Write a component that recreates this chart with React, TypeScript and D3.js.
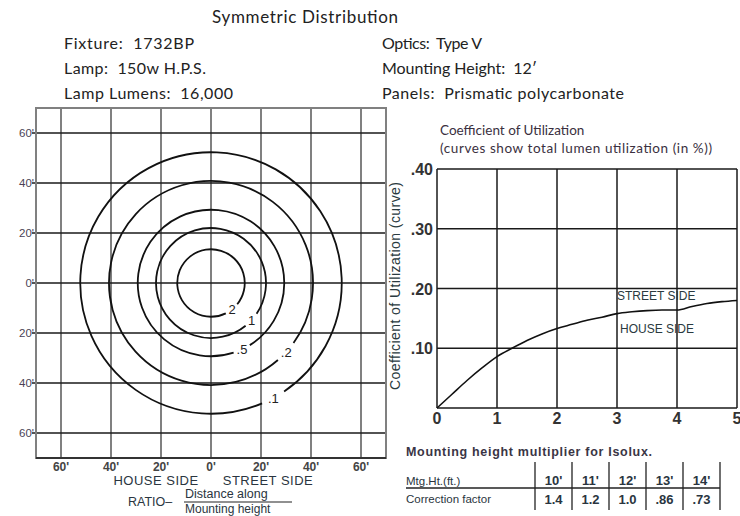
import React from 'react';
import * as d3 from 'd3';

// header info
const title = 'Symmetric Distribution';
const infoLeft = ['Fixture:\u00a0 1732BP', 'Lamp:\u00a0 150w H.P.S.', 'Lamp Lumens:\u00a0 16,000'];
const infoRight = ['Optics:\u00a0 Type V', 'Mounting Height:\u00a0 12\u2032', 'Panels:\u00a0 Prismatic polycarbonate'];
const infoLeftWidth = [130, 142, 169];
const infoRightWidth = [100, 155, 242];

// isolux plot (feet)
const gridFeet = [-60, -40, -20, 0, 20, 40, 60];
const isoValues = ['2', '1', '.5', '.2', '.1'];
const isoRadius = [13.5, 22, 29.3, 40.8, 52.3];
const isoGapStart = [39, 34, 58, 36, 56]; // degrees, clockwise from +x
const isoGapEnd = [64, 51, 72, 49, 67];

// coefficient of utilization
const couX = [0, 0.25, 0.5, 0.75, 1, 1.25, 1.5, 1.75, 2, 2.25, 2.5, 2.75, 3, 3.25, 3.5, 3.75, 4, 4.25, 4.5, 4.75, 5];
const couY = [0, 0.023, 0.046, 0.067, 0.086, 0.1, 0.113, 0.124, 0.133, 0.14, 0.147, 0.152, 0.158, 0.161, 0.163, 0.164, 0.164, 0.17, 0.175, 0.178, 0.18];
const couXTicks = [0, 1, 2, 3, 4, 5];
const couYTicks = [0.1, 0.2, 0.3, 0.4];

// correction table
const mtgHeights = ["10'", "11'", "12'", "13'", "14'"];
const correction = ['1.4', '1.2', '1.0', '.86', '.73'];

const sans = '"Liberation Sans", Arial, sans-serif';
const humanist = 'Lato, "Open Sans", sans-serif';

export default function App() {
  const xL = d3.scaleLinear().domain([-70, 70]).range([36, 386]);
  const yL = d3.scaleLinear().domain([70, -70]).range([108, 458]);
  const xR = d3.scaleLinear().domain([0, 5]).range([437, 737]);
  const yR = d3.scaleLinear().domain([0, 0.4]).range([408, 169]);
  const band = d3.scaleBand<string>().domain(mtgHeights).range([535, 720]);

  const cx = xL(0);
  const cy = yL(0);
  const rad = (d: number) => (d * Math.PI) / 180;

  const arcs = isoValues.map((v, i) => {
    const r = xL(isoRadius[i]) - xL(0);
    const p = d3.path();
    const a0 = rad(isoGapEnd[i]);
    const a1 = rad(isoGapStart[i] + 360);
    p.moveTo(cx + r * Math.cos(a0), cy + r * Math.sin(a0));
    p.arc(cx, cy, r, a0, a1);
    const la = rad((isoGapStart[i] + isoGapEnd[i]) / 2);
    return { v, d: p.toString(), lx: cx + r * Math.cos(la), ly: cy + r * Math.sin(la) };
  });

  const line = d3
    .line<number>()
    .x((_, i) => xR(couX[i]))
    .y((d) => yR(d))
    .curve(d3.curveMonotoneX);

  const dark = '#1a1a1a';
  const gray = '#808080';

  return (
    <svg width={740} height={516} style={{ position: 'absolute', left: 0, top: 0, background: '#fff' }}>
      {/* header */}
      <text x={212} y={23} textLength={186} lengthAdjust="spacing" fontFamily={humanist} fontSize={17} fill="#222">{title}</text>
      {infoLeft.map((t, i) => (
        <text key={t} x={64} y={49 + i * 25} textLength={infoLeftWidth[i]} lengthAdjust="spacing" fontFamily={humanist} fontSize={16} fill="#222">{t}</text>
      ))}
      {infoRight.map((t, i) => (
        <text key={t} x={382} y={49 + i * 25} textLength={infoRightWidth[i]} lengthAdjust="spacing" fontFamily={humanist} fontSize={16} fill="#222">{t}</text>
      ))}

      {/* isolux grid */}
      {gridFeet.map((f) => (
        <line key={'v' + f} x1={xL(f)} x2={xL(f)} y1={yL(70)} y2={yL(-70)} stroke={gray} strokeWidth={2} />
      ))}
      {gridFeet.map((f) => (
        <line key={'h' + f} x1={xL(-70) - 4} x2={xL(70)} y1={yL(f)} y2={yL(f)} stroke={dark} strokeWidth={1.5} />
      ))}
      <rect x={xL(-70)} y={yL(70)} width={xL(70) - xL(-70)} height={yL(-70) - yL(70)} fill="none" stroke={gray} strokeWidth={2} />
      <line x1={xL(-70)} x2={xL(70)} y1={yL(-70)} y2={yL(-70)} stroke={dark} strokeWidth={1.5} />
      {gridFeet.map((f) => (
        <text key={'yt' + f} x={34} y={yL(f) + 4} textAnchor="end" fontFamily={sans} fontSize={11.5} fill="#4a3f55">
          {Math.abs(f) + "'"}
        </text>
      ))}
      {gridFeet.map((f) => (
        <text key={'xt' + f} x={xL(f)} y={yL(-70) + 13} textAnchor="middle" fontFamily={sans} fontSize={12} fontWeight="bold" fill="#444">
          {Math.abs(f) + "'"}
        </text>
      ))}
      {arcs.map((a) => (
        <g key={a.v}>
          <path d={a.d} fill="none" stroke="#111" strokeWidth={1.8} />
          <text x={a.lx} y={a.ly + 5} textAnchor="middle" fontFamily={sans} fontSize={13} fill="#222">{a.v}</text>
        </g>
      ))}
      <text x={156} y={485} textAnchor="middle" fontFamily={sans} fontSize={13} letterSpacing={0.5} fill="#2a3540">HOUSE SIDE</text>
      <text x={268} y={485} textAnchor="middle" fontFamily={sans} fontSize={13} letterSpacing={0.5} fill="#2a3540">STREET SIDE</text>
      <text x={128} y={506} fontFamily={sans} fontSize={12.5} fill="#2a3540">RATIO–</text>
      <text x={185} y={498} fontFamily={sans} fontSize={12.5} fill="#2a3540">Distance along</text>
      <line x1={184} x2={292} y1={502} y2={502} stroke="#222" strokeWidth={1.2} />
      <text x={185} y={513} fontFamily={sans} fontSize={12} fill="#2a3540">Mounting height</text>

      {/* coefficient of utilization */}
      <text x={440} y={135} fontFamily={humanist} fontSize={13.5} fill="#3a3040">Coefficient of Utilization</text>
      <text x={440} y={153} textLength={272} lengthAdjust="spacing" fontFamily={humanist} fontSize={13.5} fill="#3a3040">(curves show total lumen utilization (in %))</text>
      {couXTicks.map((t) => (
        <line key={'rv' + t} x1={xR(t)} x2={xR(t)} y1={yR(0.4)} y2={yR(0)} stroke={dark} strokeWidth={1.5} />
      ))}
      {[0, ...couYTicks].map((t) => (
        <line key={'rh' + t} x1={xR(0)} x2={xR(5)} y1={yR(t)} y2={yR(t)} stroke={dark} strokeWidth={1.5} />
      ))}
      {couYTicks.map((t) => (
        <text key={'ryt' + t} x={433} y={yR(t) + 6} textAnchor="end" fontFamily={sans} fontSize={16} fontWeight="bold" fill="#333">
          {d3.format('.2f')(t).replace(/^0/, '')}
        </text>
      ))}
      {couXTicks.map((t) => (
        <text key={'rxt' + t} x={xR(t)} y={424} textAnchor="middle" fontFamily={sans} fontSize={16} fontWeight="bold" fill="#333">{t}</text>
      ))}
      <text transform={`translate(400,286) rotate(-90)`} textAnchor="middle" textLength={208} lengthAdjust="spacing" fontFamily={sans} fontSize={14} fill="#2a3a40">
        Coefficient of Utilization (curve)
      </text>
      <path d={line(couY) ?? ''} fill="none" stroke="#111" strokeWidth={1.6} />
      <text x={617} y={300} fontFamily={sans} fontSize={12} fill="#2a3a40">STREET SIDE</text>
      <text x={620} y={333} fontFamily={sans} fontSize={12} fill="#2a3a40">HOUSE SIDE</text>

      {/* mounting height table */}
      <text x={406} y={456} fontFamily={sans} fontSize={12.5} fontWeight="bold" letterSpacing={0.7} fill="#3a3545">
        Mounting height multiplier for Isolux.
      </text>
      <text x={406} y={485} fontFamily={sans} fontSize={11.5} fill="#2a3540">Mtg.Ht.(ft.)</text>
      <text x={406} y={503} fontFamily={sans} fontSize={11.5} fill="#2a3540">Correction factor</text>
      <line x1={406} x2={720} y1={488} y2={488} stroke="#222" strokeWidth={1.3} />
      {mtgHeights.map((h) => (
        <line key={'tv' + h} x1={band(h)} x2={band(h)} y1={462} y2={510} stroke="#222" strokeWidth={1.3} />
      ))}
      <line x1={720} x2={720} y1={462} y2={510} stroke="#222" strokeWidth={1.3} />
      {mtgHeights.map((h, i) => (
        <g key={'tc' + h}>
          <text x={(band(h) ?? 0) + band.bandwidth() / 2} y={485} textAnchor="middle" fontFamily={sans} fontSize={13} fontWeight="bold" fill="#2a3540">{h}</text>
          <text x={(band(h) ?? 0) + band.bandwidth() / 2} y={504} textAnchor="middle" fontFamily={sans} fontSize={13} fontWeight="bold" fill="#2a3540">{correction[i]}</text>
        </g>
      ))}
    </svg>
  );
}
